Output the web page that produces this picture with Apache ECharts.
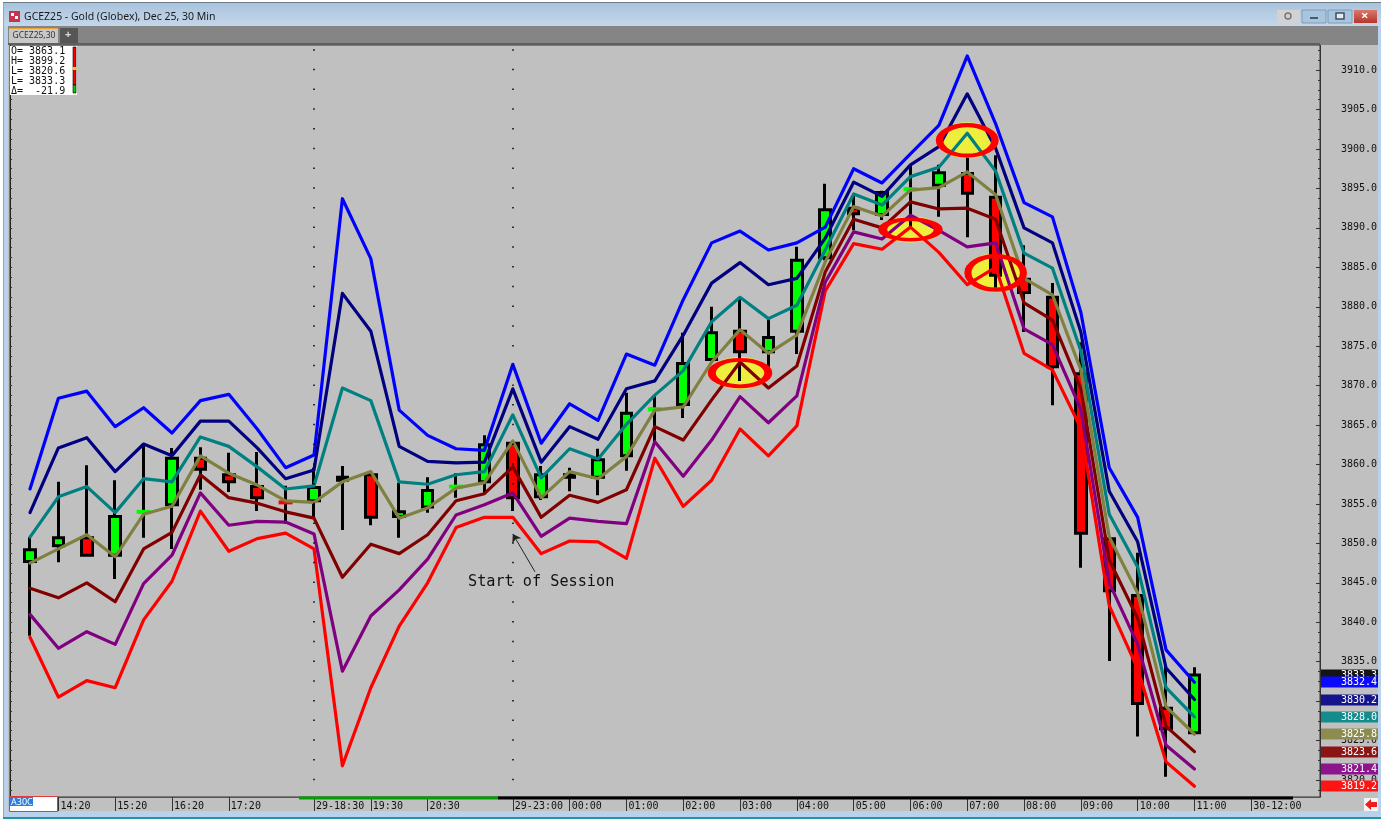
<!DOCTYPE html>
<html>
<head>
<meta charset="utf-8">
<title>GCEZ25</title>
<style>
  html, body { margin: 0; padding: 0; background: #fff; overflow: hidden; }
  #chart { width: 1388px; height: 822px; }
</style>
<script src="https://cdn.jsdelivr.net/npm/echarts@6/dist/echarts.min.js"></script>
</head>
<body>
<div id="chart"></div>
<script>
// candles, one per 30 minute bar
const opens = [3847.7,3849.7,3850.7,3848.5,3854.0,3854.9,3860.8,3858.7,3857.2,3855.2,3855.4,3858.0,3858.7,3853.4,3854.6,3857.2,3857.8,3862.7,3855.9,3858.7,3858.4,3861.1,3867.0,3867.6,3873.3,3876.9,3874.3,3876.9,3886.2,3892.5,3891.7,3894.9,3895.4,3896.9,3893.9,3883.5,3881.2,3871.5,3850.6,3843.4,3829.1,3826.0];
const closes = [3849.2,3850.7,3848.5,3853.4,3854.0,3860.8,3859.4,3857.8,3855.8,3855.2,3857.1,3858.4,3853.3,3854.0,3856.7,3857.2,3862.5,3855.8,3858.7,3858.4,3860.6,3866.5,3867.0,3872.8,3876.7,3874.3,3876.1,3885.9,3892.3,3891.8,3894.5,3894.9,3897.0,3894.4,3884.0,3881.8,3872.4,3851.3,3844.0,3829.7,3826.5,3833.3];
const lows = [3838.3,3847.6,3848.3,3845.5,3850.7,3849.3,3856.8,3856.5,3854.1,3852.5,3853.3,3851.7,3852.3,3850.7,3853.9,3855.8,3856.4,3854.1,3855.5,3856.6,3856.1,3859.2,3862.5,3865.9,3873.1,3870.6,3872.4,3874.0,3885.9,3889.7,3891.0,3890.0,3891.4,3888.8,3882.4,3876.8,3867.5,3846.9,3835.1,3825.5,3820.4,3825.8];
const highs = [3850.8,3857.8,3859.9,3858.0,3862.5,3862.1,3862.2,3861.5,3861.6,3857.3,3859.6,3859.8,3859.1,3857.7,3858.4,3858.9,3863.7,3863.0,3859.8,3859.6,3862.0,3869.1,3868.7,3876.7,3880.0,3881.0,3878.6,3887.6,3895.6,3894.2,3894.7,3897.9,3898.0,3898.9,3899.2,3887.8,3883.0,3875.5,3850.8,3848.8,3834.6,3834.3];
const redDojiBars = [9];

// the seven band studies
const blueBand = [3856.9,3868.4,3869.3,3864.8,3867.2,3864.0,3868.1,3868.9,3864.5,3859.6,3861.2,3893.7,3886.1,3866.9,3863.7,3862.0,3861.8,3872.7,3862.7,3867.7,3865.6,3874.0,3872.6,3880.9,3888.1,3889.6,3887.2,3888.1,3890.1,3897.5,3895.7,3899.4,3903.0,3911.8,3903.2,3893.2,3891.4,3879.3,3859.6,3853.3,3836.5,3832.4];
const navyBand = [3853.9,3862.1,3863.4,3859.1,3862.6,3861.1,3865.5,3865.5,3862.1,3858.2,3859.3,3881.7,3876.9,3862.3,3860.4,3860.2,3860.3,3869.6,3860.3,3864.8,3863.2,3869.6,3870.6,3876.4,3883.0,3885.6,3882.8,3883.6,3888.7,3895.8,3894.0,3898.0,3900.3,3907.0,3900.1,3890.0,3888.1,3876.8,3856.6,3850.2,3834.2,3830.2];
const tealBand = [3850.8,3855.9,3857.2,3853.9,3858.2,3857.8,3863.5,3862.3,3859.7,3856.9,3857.3,3869.7,3868.1,3857.8,3857.5,3858.7,3859.1,3866.3,3858.3,3862.0,3860.7,3865.1,3868.8,3871.9,3878.1,3881.2,3878.5,3880.2,3887.2,3894.3,3892.9,3896.5,3897.7,3902.0,3897.2,3886.8,3884.9,3874.4,3853.7,3847.0,3831.7,3828.0];
const oliveBand = [3847.5,3849.3,3851.1,3848.3,3853.7,3854.7,3861.1,3858.9,3857.4,3855.4,3855.2,3857.8,3859.1,3853.2,3854.5,3857.0,3857.7,3863.0,3855.8,3859.1,3858.2,3861.0,3866.9,3867.3,3873.0,3877.1,3874.1,3876.4,3885.7,3892.7,3891.5,3894.8,3895.1,3897.1,3894.2,3883.6,3881.5,3872.0,3850.8,3843.7,3829.3,3825.8];
const maroonBand = [3844.3,3843.1,3845.0,3842.6,3849.3,3851.4,3858.7,3855.8,3855.1,3854.0,3853.2,3845.7,3849.9,3848.7,3851.1,3855.4,3856.3,3859.7,3853.3,3856.1,3855.2,3856.8,3864.8,3863.1,3868.2,3873.0,3869.7,3872.5,3884.4,3891.1,3890.0,3893.3,3892.4,3892.5,3891.1,3880.5,3878.3,3869.6,3847.9,3840.5,3826.8,3823.6];
const purpleBand = [3841.0,3836.7,3838.8,3837.2,3844.9,3848.5,3856.4,3852.3,3852.8,3852.7,3851.2,3833.8,3840.8,3844.1,3848.0,3853.6,3854.9,3856.4,3850.9,3853.2,3852.8,3852.5,3862.9,3858.5,3863.1,3868.6,3865.3,3868.7,3883.1,3889.5,3888.6,3891.6,3889.7,3887.6,3888.1,3877.2,3875.2,3867.0,3845.0,3837.2,3824.4,3821.4];
const redBand = [3838.1,3830.5,3832.6,3831.7,3840.3,3845.2,3854.1,3849.0,3850.6,3851.3,3849.3,3821.8,3831.7,3839.5,3845.0,3852.0,3853.3,3853.3,3848.7,3850.3,3850.2,3848.1,3860.8,3854.7,3858.0,3864.5,3861.1,3864.9,3882.0,3888.0,3887.3,3890.1,3886.9,3882.8,3885.0,3874.1,3872.0,3864.6,3842.1,3834.1,3822.3,3819.2];

// circled turning points: bar, price
const circledBars = [25, 31, 33, 34];
const circledPrices = [3871.6, 3889.8, 3901.1, 3884.3];

// axis labels
const timeTickBars = [1,3,5,7,10,12,14,17,19,21,23,25,27,29,31,33,35,37,39,41,43];
const timeTickLabels = ["14:20","15:20","16:20","17:20","29-18:30","19:30","20:30","29-23:00","00:00","01:00","02:00","03:00","04:00","05:00","06:00","07:00","08:00","09:00","10:00","11:00","30-12:00"];
const priceLabels = [3820,3825,3830,3835,3840,3845,3850,3855,3860,3865,3870,3875,3880,3885,3890,3895,3900,3905,3910];

// last values at the right edge
const lastPriceValues = [3833.3,3832.4,3830.2,3828.0,3825.8,3823.6,3821.4,3819.2];
const lastPriceColors = ["#141414","#0a0aff","#14148c","#148c8c","#8c8c50","#8c1414","#8c148c","#ff1414"];

// summary box
const summaryLines = ["O= 3863.1","H= 3899.2","L= 3820.6","L= 3833.3","Δ=  -21.9"];

const PRICE_MIN = 3817.845;
const PRICE_MAX = 3913.19;
const MONO = '"DejaVu Sans Mono", monospace';
const RING = 5.5;

const priceTicks = [];
for (let p = 3818.75; p < PRICE_MAX; p += 1.25) priceTicks.push(p);

function bandSeries(name, values, color) {
  return {
    name: name,
    type: "line",
    z: 3,
    symbol: "none",
    silent: true,
    lineStyle: { color: color, width: 3.2, cap: "round", join: "round" },
    data: values.map((v, i) => [i, v])
  };
}

const ellipseSizes = [[62, 32], [61, 26], [61, 36], [61, 39]];
const circledData = circledBars.map((b, i) => [b, circledPrices[i]]);
const dojiData = opens.map((o, i) => [i, o]).filter((d, i) => opens[i] === closes[i]);

const chart = echarts.init(document.getElementById("chart"), null, { renderer: "canvas" });

chart.setOption({
  animation: false,
  backgroundColor: "#c0c0c0",
  grid: {
    show: true,
    left: 10,
    right: 68,
    top: 45,
    bottom: 25,
    backgroundColor: "#c0c0c0",
    borderColor: "#333333",
    borderWidth: 1
  },
  xAxis: {
    type: "value",
    min: -0.704,
    max: 45.42,
    splitLine: { show: false },
    axisLine: { onZero: false, lineStyle: { color: "#555555", width: 1 } },
    axisTick: { customValues: timeTickBars, length: 14, lineStyle: { color: "#333333" } },
    axisLabel: {
      customValues: timeTickBars,
      formatter: v => timeTickLabels[timeTickBars.indexOf(v)],
      align: "left",
      margin: 4,
      padding: [0, 0, 0, 2],
      color: "#111111",
      fontFamily: MONO,
      fontSize: 10
    }
  },
  yAxis: [
    {
      type: "value",
      position: "right",
      min: PRICE_MIN,
      max: PRICE_MAX,
      splitLine: { show: false },
      axisLine: { show: true, onZero: false, lineStyle: { color: "#333333" } },
      axisTick: { show: true, inside: true, length: 4, customValues: priceLabels, lineStyle: { color: "#333333" } },
      axisLabel: {
        customValues: priceLabels,
        formatter: v => v.toFixed(1),
        margin: 21,
        color: "#111111",
        fontFamily: MONO,
        fontSize: 10
      }
    },
    {
      type: "value",
      position: "right",
      min: PRICE_MIN,
      max: PRICE_MAX,
      splitLine: { show: false },
      axisLine: { show: false, onZero: false },
      axisLabel: { show: false },
      axisTick: { show: true, inside: true, length: 2, customValues: priceTicks, lineStyle: { color: "#333333" } }
    },
    {
      type: "value",
      position: "left",
      min: PRICE_MIN,
      max: PRICE_MAX,
      splitLine: { show: false },
      axisLine: { show: true, onZero: false, lineStyle: { color: "#222222" } },
      axisLabel: { show: false },
      axisTick: { show: true, inside: true, length: 2, customValues: priceTicks, lineStyle: { color: "#333333" } }
    }
  ],
  series: [
    // yellow fill sits under everything
    {
      name: "circleFill",
      type: "scatter",
      z: 1,
      silent: true,
      symbol: "circle",
      symbolSize: (v, p) => ellipseSizes[p.dataIndex],
      itemStyle: { color: "#eeee3c", opacity: 1 },
      data: circledData
    },
    {
      name: "GCEZ25",
      type: "candlestick",
      z: 2,
      silent: true,
      barWidth: 11,
      itemStyle: {
        color: "#00ff00",
        color0: "#ff0000",
        borderColor: "#000000",
        borderColor0: "#000000",
        borderColorDoji: "#000000",
        borderWidth: 3
      },
      data: opens.map((o, i) => [i, o, closes[i], lows[i], highs[i]]),
      markLine: {
        silent: true,
        symbol: "none",
        label: { show: false },
        animation: false,
        data: [
          // session break dots
          { xAxis: 10, lineStyle: { color: "#000000", width: 1.5, type: [1.5, 18.22], dashOffset: 3 } },
          { xAxis: 17, lineStyle: { color: "#000000", width: 1.5, type: [1.5, 18.22], dashOffset: 3 } },
          // arrow to the session start
          [
            { coord: [17.78, 3846.4], lineStyle: { color: "#222222", width: 1, type: "solid" } },
            { coord: [17.0, 3851.2], symbol: "arrow", symbolSize: 8 }
          ]
        ]
      }
    },
    {
      name: "doji",
      type: "scatter",
      z: 2,
      silent: true,
      symbol: "rect",
      symbolSize: [14, 4],
      itemStyle: {
        opacity: 1,
        color: p => (redDojiBars.includes(p.value[0]) ? "#ff0000" : "#00ff00")
      },
      data: dojiData
    },
    bandSeries("lower3", redBand, "#ff0000"),
    bandSeries("lower2", purpleBand, "#800080"),
    bandSeries("lower1", maroonBand, "#800000"),
    bandSeries("upper3", blueBand, "#0000ff"),
    bandSeries("upper2", navyBand, "#000080"),
    bandSeries("upper1", tealBand, "#008080"),
    bandSeries("mid", oliveBand, "#808040"),
    // red ring goes over the lines
    {
      name: "circleRing",
      type: "scatter",
      z: 4,
      silent: true,
      symbol: "circle",
      symbolSize: (v, p) => [ellipseSizes[p.dataIndex][0] - RING, ellipseSizes[p.dataIndex][1] - RING],
      itemStyle: { color: "rgba(0,0,0,0)", borderColor: "#ff0000", borderWidth: RING, opacity: 1 },
      data: circledData
    }
  ]
});

function box(x, y, w, h, fill, extra) {
  return Object.assign({ type: "rect", silent: true, z: 50, shape: { x: x, y: y, width: w, height: h }, style: { fill: fill } }, extra || {});
}
function label(x, y, text, color, font, extra) {
  return Object.assign({ type: "text", silent: true, z: 52, x: x, y: y, style: { text: text, fill: color, font: font, textVerticalAlign: "middle" } }, extra || {});
}

const elements = [
  // page margin round the window
  box(0, 0, 1388, 2, "#ffffff"),
  box(0, 0, 3, 822, "#ffffff"),
  box(1381, 0, 7, 822, "#ffffff"),
  box(0, 819, 1388, 3, "#ffffff"),
  // window frame
  box(3, 2, 1378, 1, "#6f7b86"),
  box(3, 3, 1, 816, "#9aa7b3"),
  box(4, 3, 4, 815, "#b9d1ea"),
  box(1378, 3, 3, 815, "#b9d1ea"),
  box(4, 811, 1377, 6, "#b9d1ea"),
  box(3, 817, 1378, 2, "#1f97a8"),
  box(4, 3, 1377, 23, "#b5cce3", {
    style: { fill: new echarts.graphic.LinearGradient(0, 0, 0, 1, [{ offset: 0, color: "#a9c3dd" }, { offset: 1, color: "#c4d7ea" }]) }
  }),
  // tab strip
  box(8, 26, 1370, 19, "#858585"),
  box(8, 43, 1312, 2, "#5f5f5f"),
  box(9, 28, 49, 15, "#c8c8c8"),
  box(9, 28, 49, 1, "#e8a33a"),
  label(12.5, 36, "GCEZ25,30", "#333333", '8.5px "Noto Sans"'),
  box(60, 28, 18, 15, "#565656"),
  label(65, 35, "+", "#dddddd", 'bold 11px "Noto Sans"'),
  // title bar
  box(9, 11, 11, 11, "#c8324a"),
  box(11, 13, 3, 3, "#ffffff"),
  box(15, 16, 3, 3, "#ffffff"),
  label(24, 17, "GCEZ25 - Gold (Globex), Dec 25, 30 Min", "#1a1a1a", '10.5px "Noto Sans"'),
  // window buttons
  box(1277, 10, 23, 13, "#d2d2d2"),
  { type: "circle", silent: true, z: 52, shape: { cx: 1288, cy: 16, r: 3 }, style: { fill: "none", stroke: "#777777", lineWidth: 1.5 } },
  box(1302, 10, 24, 13, "#a9c5de", { style: { fill: "#a9c5de", stroke: "#7f9cb7", lineWidth: 1 } }),
  box(1310, 17, 8, 2, "#4a5a68"),
  box(1328, 10, 24, 13, "#a9c5de", { style: { fill: "#a9c5de", stroke: "#7f9cb7", lineWidth: 1 } }),
  box(1336, 13, 8, 6, "#e4ecf3", { style: { fill: "#e4ecf3", stroke: "#3f4f5d", lineWidth: 1.5 } }),
  box(1354, 10, 23, 13, "#c4483c", {
    style: { fill: new echarts.graphic.LinearGradient(0, 0, 0, 1, [{ offset: 0, color: "#d9786c" }, { offset: 1, color: "#b8352a" }]) }
  }),
  label(1361, 16.5, "×", "#ffffff", 'bold 13px "Noto Sans"'),
  // lower strip: session bar
  box(299, 796.5, 199, 3, "#00a000"),
  box(498, 796.5, 795, 3, "#000000"),
  // symbol entry box
  box(9.5, 796.5, 48, 15, "#ffffff", { style: { fill: "#ffffff", stroke: "#e03a3a", lineWidth: 1 } }),
  box(10, 797, 23, 9, "#2a7de1"),
  label(11, 802, "A30C", "#ffffff", '9px "Noto Sans"'),
  // back arrow
  box(1364, 798, 14, 13, "#f4f4f4"),
  { type: "polygon", silent: true, z: 52, shape: { points: [[1365, 804.5], [1371, 799], [1371, 802], [1377, 802], [1377, 807], [1371, 807], [1371, 810]] }, style: { fill: "#ee1c1c" } },
  // summary box
  box(10, 46, 67, 49, "#ffffff"),
  box(73, 47, 3, 38, "#ff0000", { style: { fill: "#ff0000", stroke: "#000000", lineWidth: 0.6 } }),
  box(73, 85, 3, 8, "#00cc00", { style: { fill: "#00cc00", stroke: "#000000", lineWidth: 0.6 } }),
  box(72.5, 67, 4, 3, "#e8d82a"),
  // note under the session start
  label(468, 582, "Start of Session", "#111111", "15.2px " + MONO)
];

summaryLines.forEach((line, i) => {
  elements.push(label(11, 51.5 + i * 10, line, "#111111", "10px " + MONO));
});

lastPriceValues.forEach((v, i) => {
  const y = chart.convertToPixel({ yAxisIndex: 0 }, v);
  elements.push(box(1321, Math.round(y) - 5.5, 57, 11, lastPriceColors[i], { z: 60 + i }));
  elements.push(label(1341, y + 0.5, v.toFixed(1), "#ffffff", "10px " + MONO, { z: 60 + i }));
});

chart.setOption({ graphic: elements });
</script>
</body>
</html>
